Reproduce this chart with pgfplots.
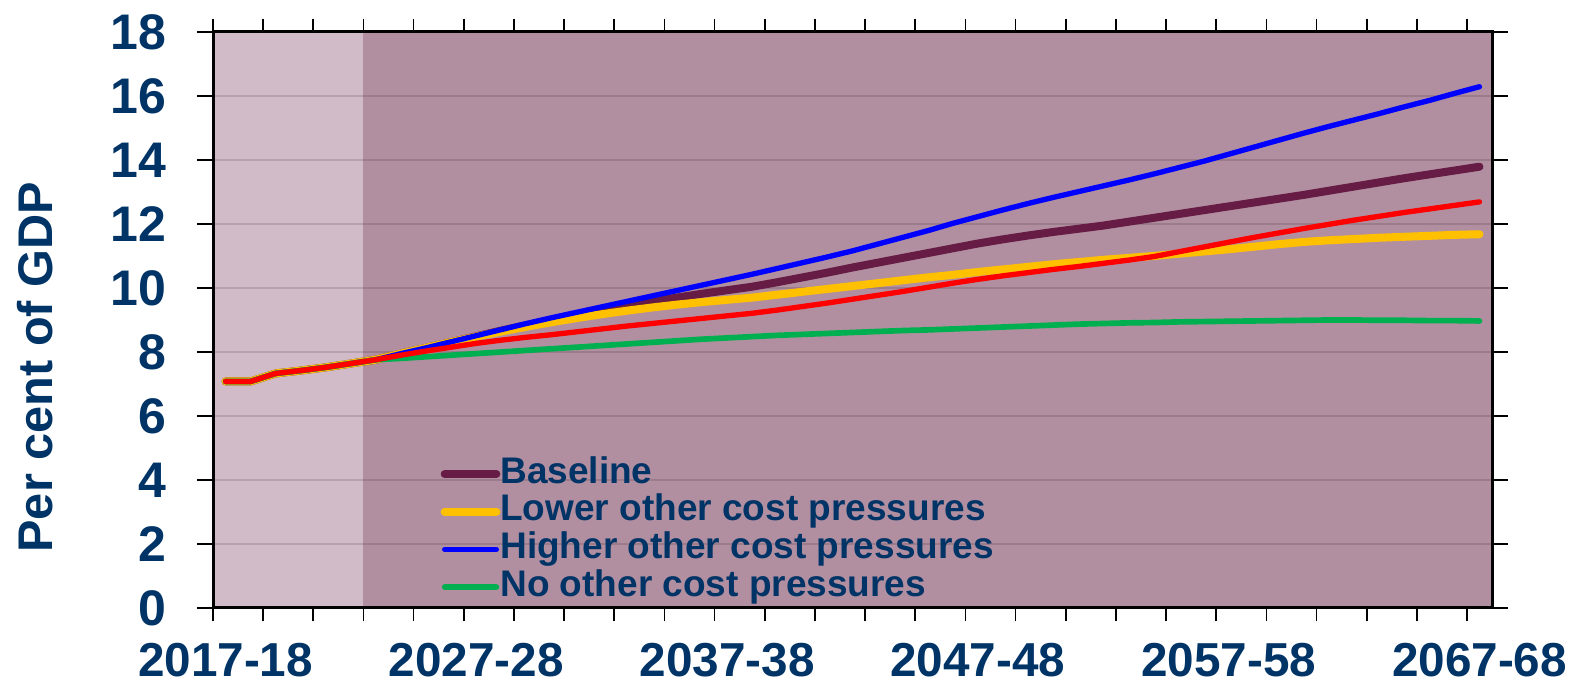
\documentclass[border=0pt]{standalone}
\usepackage{fontspec}
\setmainfont{Liberation Sans}
\usepackage{pgfplots}
\usepackage{pgfplotstable}
\pgfplotsset{compat=1.18}

\definecolor{lightbg}{RGB}{210,187,200}
\definecolor{darkbg}{RGB}{178,143,160}
\definecolor{navy}{RGB}{0,51,102}
\definecolor{basec}{RGB}{102,28,69}
\definecolor{lowerc}{RGB}{255,192,0}
\definecolor{higherc}{RGB}{0,0,255}
\definecolor{noc}{RGB}{0,176,80}
\definecolor{redc}{RGB}{255,0,0}

% Spending projections, per cent of GDP
\pgfplotstableread{
year base  lower higher none  red
2017 7.08  7.08  7.08   7.08  7.08
2018 7.08  7.08  7.08   7.08  7.08
2019 7.33  7.33  7.33   7.33  7.33
2020 7.42  7.42  7.42   7.42  7.42
2021 7.52  7.52  7.52   7.52  7.52
2022 7.64  7.64  7.64   7.64  7.64
2023 7.76  7.76  7.76   7.76  7.76
2024 7.95  7.95  7.95   7.80  7.90
2025 8.13  8.13  8.13   7.85  8.03
2026 8.31  8.31  8.32   7.90  8.15
2027 8.49  8.48  8.51   7.95  8.27
2028 8.67  8.64  8.70   8.00  8.37
2029 8.84  8.79  8.89   8.05  8.46
2030 9.00  8.93  9.07   8.10  8.54
2031 9.15  9.06  9.24   8.15  8.63
2032 9.30  9.18  9.41   8.20  8.72
2033 9.44  9.29  9.58   8.25  8.81
2034 9.58  9.39  9.75   8.30  8.89
2035 9.70  9.48  9.92   8.35  8.97
2036 9.82  9.56  10.09  8.40  9.05
2037 9.93  9.63  10.26  8.44  9.13
2038 10.04 9.70  10.43  8.48  9.21
2039 10.18 9.79  10.61  8.52  9.31
2040 10.33 9.88  10.79  8.55  9.42
2041 10.48 9.97  10.97  8.58  9.53
2042 10.64 10.06 11.16  8.61  9.65
2043 10.79 10.15 11.37  8.64  9.77
2044 10.94 10.24 11.58  8.67  9.89
2045 11.09 10.33 11.79  8.69  10.02
2046 11.24 10.41 12.02  8.72  10.15
2047 11.39 10.50 12.23  8.75  10.27
2048 11.52 10.58 12.44  8.78  10.38
2049 11.64 10.66 12.64  8.81  10.48
2050 11.75 10.74 12.83  8.84  10.58
2051 11.85 10.81 13.01  8.87  10.67
2052 11.95 10.88 13.19  8.89  10.77
2053 12.07 10.94 13.37  8.91  10.87
2054 12.19 11.00 13.56  8.92  10.98
2055 12.31 11.07 13.76  8.94  11.13
2056 12.43 11.14 13.96  8.95  11.28
2057 12.55 11.21 14.18  8.96  11.43
2058 12.67 11.29 14.40  8.97  11.58
2059 12.79 11.37 14.62  8.98  11.72
2060 12.91 11.44 14.84  8.99  11.86
2061 13.04 11.49 15.05  9.00  11.99
2062 13.17 11.53 15.25  9.00  12.12
2063 13.30 11.57 15.45  8.99  12.24
2064 13.43 11.60 15.66  8.99  12.36
2065 13.55 11.63 15.86  8.98  12.47
2066 13.67 11.66 16.08  8.98  12.58
2067 13.79 11.68 16.29  8.97  12.69
}\datatable

\begin{document}
\begin{tikzpicture}
\begin{axis}[
  set layers,
  axis background/.style={fill=darkbg},
  at={(63.9pt,22.8pt)}, anchor=south west,
  scale only axis, width=383.7pt, height=172.8pt,
  xmin=2016.5, xmax=2067.5,
  ymin=0, ymax=18,
  xtick={2017,2027,2037,2047,2057,2067},
  xticklabels={2017-18,2027-28,2037-38,2047-48,2057-58,2067-68},
  minor xtick={2016.5,2018.5,...,2066.5},
  ytick={0,2,...,18},
  tick align=outside,
  major x tick style={draw=none},
  minor tick length=4pt,
  major tick length=4.8pt,
  tick style={black, line width=0.5pt},
  ymajorgrids,
  grid style={black, opacity=0.13, line width=0.5pt},
  axis line style={black, line width=0.9pt},
  /pgf/number format/assume math mode=true,
  ticklabel style={font=\fontsize{15}{15}\selectfont\bfseries, text=navy, inner sep=0pt},
  xticklabel style={font=\fontsize{14.3}{14.3}\selectfont\bfseries, yshift=-5.6pt},
  yticklabel style={xshift=-9pt},
  ylabel={Per cent of GDP},
  ylabel style={font=\fontsize{14.6}{14.6}\selectfont\bfseries, text=navy,
                at={(-0.139,0.418)}, anchor=center},
  legend style={at={(0.1775,0.264)}, anchor=north west,
                draw=none, fill=none, inner sep=0pt, row sep=0.8pt,
                font=\fontsize{11.1}{11.1}\selectfont\bfseries, text=navy,
                nodes={inner sep=0pt, text height=8pt, text depth=2.5pt}},
  legend cell align=left,
  legend image code/.code={\draw[#1, line cap=round] (0pt,0pt) -- (15.5pt,0pt);},
  /tikz/every even column/.append style={column sep=2pt},
  every axis plot/.append style={line join=round, line cap=round},
]
% lighter band for the outturn years
\addplot[draw=none, fill=lightbg, on layer=axis background, forget plot]
  coordinates {(2016.5,0) (2016.5,18) (2022.5,18) (2022.5,0)};
\addplot[basec, line width=2.4pt] table[x=year, y=base] {\datatable};
\addlegendentry{Baseline}
\addplot[lowerc, line width=2.4pt] table[x=year, y=lower] {\datatable};
\addlegendentry{Lower other cost pressures}
\addplot[higherc, line width=1.6pt] table[x=year, y=higher] {\datatable};
\addlegendentry{Higher other cost pressures}
\addplot[noc, line width=1.7pt] table[x=year, y=none] {\datatable};
\addlegendentry{No other cost pressures}
\addplot[redc, line width=1.6pt, forget plot] table[x=year, y=red] {\datatable};
\end{axis}
% fixed page frame
\pgfresetboundingbox
\useasboundingbox (0,0) rectangle (471pt,205.2pt);
\end{tikzpicture}
\end{document}
